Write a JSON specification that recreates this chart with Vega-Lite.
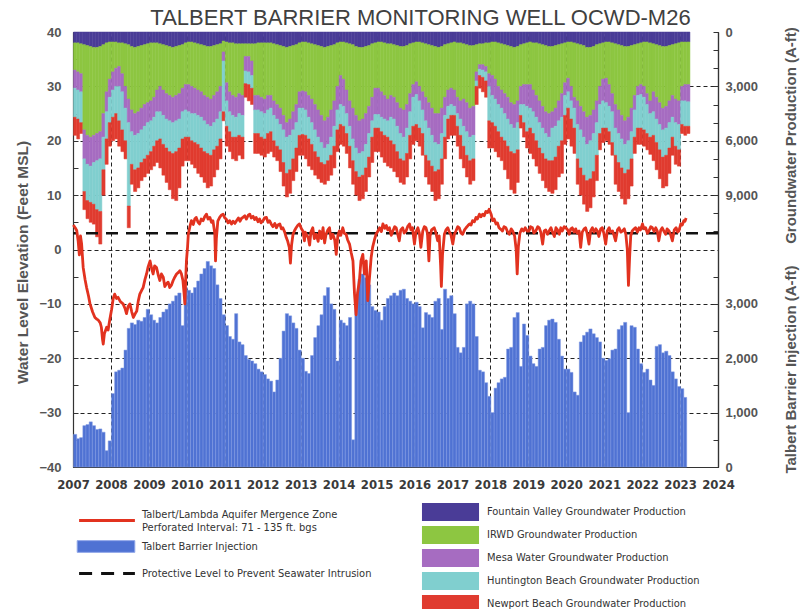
{
"$schema": "https://vega.github.io/schema/vega-lite/v6.json",
"width": 645, "height": 435,
"autosize": {"type": "none"},
"padding": {"left": 73, "top": 32, "right": 85, "bottom": 142},
"background": "white",
"config": {"view": {"stroke": null}, "font": "Liberation Sans"},
"title": {"text": "TALBERT  BARRIER  MONITORING  WELL  OCWD-M26", "fontSize": 22, "fontWeight": "normal", "color": "#404040", "font": "Liberation Sans", "anchor": "middle", "dx": 25, "dy": 10, "offset": 6},
"datasets": {
"prod": [
{"d":"2007-01","aFV":600,"bIRWD":1500,"cMesa":1000,"dHB":1600,"eNB":1000},
{"d":"2007-02","aFV":600,"bIRWD":1600,"cMesa":1000,"dHB":1600,"eNB":1100},
{"d":"2007-03","aFV":650,"bIRWD":1650,"cMesa":1000,"dHB":1700,"eNB":600},
{"d":"2007-04","aFV":700,"bIRWD":4700,"cMesa":1600,"dHB":1800,"eNB":1000},
{"d":"2007-05","aFV":750,"bIRWD":4950,"cMesa":1600,"dHB":2000,"eNB":1000},
{"d":"2007-06","aFV":800,"bIRWD":5000,"cMesa":1600,"dHB":2000,"eNB":1100},
{"d":"2007-07","aFV":850,"bIRWD":4850,"cMesa":1500,"dHB":2300,"eNB":1100},
{"d":"2007-08","aFV":850,"bIRWD":4750,"cMesa":1500,"dHB":2700,"eNB":1500},
{"d":"2007-09","aFV":800,"bIRWD":4700,"cMesa":1500,"dHB":2900,"eNB":1800},
{"d":"2007-10","aFV":700,"bIRWD":3800,"cMesa":1300,"dHB":1800,"eNB":1400},
{"d":"2007-11","aFV":600,"bIRWD":2700,"cMesa":1100,"dHB":1500,"eNB":1400},
{"d":"2007-12","aFV":550,"bIRWD":2050,"cMesa":1000,"dHB":1400,"eNB":1300},
{"d":"2008-01","aFV":550,"bIRWD":1650,"cMesa":1000,"dHB":1500,"eNB":1300},
{"d":"2008-02","aFV":550,"bIRWD":1450,"cMesa":1000,"dHB":1500,"eNB":1400},
{"d":"2008-03","aFV":600,"bIRWD":1300,"cMesa":1100,"dHB":1900,"eNB":1400},
{"d":"2008-04","aFV":600,"bIRWD":1700,"cMesa":1000,"dHB":2100,"eNB":1200},
{"d":"2008-05","aFV":650,"bIRWD":2350,"cMesa":1200,"dHB":1800,"eNB":1000},
{"d":"2008-06","aFV":700,"bIRWD":3000,"cMesa":1300,"dHB":4600,"eNB":1200},
{"d":"2008-07","aFV":800,"bIRWD":3500,"cMesa":1200,"dHB":1800,"eNB":1100},
{"d":"2008-08","aFV":850,"bIRWD":3650,"cMesa":1200,"dHB":1900,"eNB":1200},
{"d":"2008-09","aFV":800,"bIRWD":3600,"cMesa":1200,"dHB":1900,"eNB":1100},
{"d":"2008-10","aFV":750,"bIRWD":3450,"cMesa":1200,"dHB":1800,"eNB":1000},
{"d":"2008-11","aFV":700,"bIRWD":3300,"cMesa":1200,"dHB":1800,"eNB":1000},
{"d":"2008-12","aFV":650,"bIRWD":3250,"cMesa":1100,"dHB":1800,"eNB":1000},
{"d":"2009-01","aFV":600,"bIRWD":3200,"cMesa":1100,"dHB":1700,"eNB":1000},
{"d":"2009-02","aFV":600,"bIRWD":3000,"cMesa":1100,"dHB":1600,"eNB":1100},
{"d":"2009-03","aFV":600,"bIRWD":2600,"cMesa":1200,"dHB":1600,"eNB":1200},
{"d":"2009-04","aFV":650,"bIRWD":2350,"cMesa":1400,"dHB":1500,"eNB":1600},
{"d":"2009-05","aFV":700,"bIRWD":2500,"cMesa":1400,"dHB":1600,"eNB":1700},
{"d":"2009-06","aFV":750,"bIRWD":2650,"cMesa":1400,"dHB":1600,"eNB":1900},
{"d":"2009-07","aFV":800,"bIRWD":2700,"cMesa":1400,"dHB":1700,"eNB":2100},
{"d":"2009-08","aFV":850,"bIRWD":2750,"cMesa":1400,"dHB":1700,"eNB":2500},
{"d":"2009-09","aFV":800,"bIRWD":2700,"cMesa":1400,"dHB":1700,"eNB":2700},
{"d":"2009-10","aFV":750,"bIRWD":2650,"cMesa":1400,"dHB":1600,"eNB":2200},
{"d":"2009-11","aFV":700,"bIRWD":2400,"cMesa":1300,"dHB":1500,"eNB":1500},
{"d":"2009-12","aFV":600,"bIRWD":2300,"cMesa":1400,"dHB":1500,"eNB":1300},
{"d":"2010-01","aFV":550,"bIRWD":2350,"cMesa":1500,"dHB":1400,"eNB":1300},
{"d":"2010-02","aFV":550,"bIRWD":2450,"cMesa":1500,"dHB":1500,"eNB":1300},
{"d":"2010-03","aFV":600,"bIRWD":2500,"cMesa":1400,"dHB":1600,"eNB":1400},
{"d":"2010-04","aFV":650,"bIRWD":2550,"cMesa":1400,"dHB":1600,"eNB":1600},
{"d":"2010-05","aFV":700,"bIRWD":2600,"cMesa":1400,"dHB":1700,"eNB":1600},
{"d":"2010-06","aFV":750,"bIRWD":2750,"cMesa":1400,"dHB":1700,"eNB":1700},
{"d":"2010-07","aFV":800,"bIRWD":2800,"cMesa":1500,"dHB":1600,"eNB":1900},
{"d":"2010-08","aFV":800,"bIRWD":2900,"cMesa":1500,"dHB":1600,"eNB":1700},
{"d":"2010-09","aFV":750,"bIRWD":2750,"cMesa":1500,"dHB":1500,"eNB":1500},
{"d":"2010-10","aFV":700,"bIRWD":2600,"cMesa":1500,"dHB":1500,"eNB":1300},
{"d":"2010-11","aFV":650,"bIRWD":2350,"cMesa":1400,"dHB":1500,"eNB":1100},
{"d":"2010-12","aFV":500,"bIRWD":600,"cMesa":500,"dHB":2800,"eNB":500},
{"d":"2011-01","aFV":550,"bIRWD":2250,"cMesa":1000,"dHB":1400,"eNB":1100},
{"d":"2011-02","aFV":600,"bIRWD":2700,"cMesa":1100,"dHB":1100,"eNB":1100},
{"d":"2011-03","aFV":600,"bIRWD":2900,"cMesa":1100,"dHB":1200,"eNB":1200},
{"d":"2011-04","aFV":650,"bIRWD":2950,"cMesa":1100,"dHB":1100,"eNB":1300},
{"d":"2011-05","aFV":650,"bIRWD":2750,"cMesa":1100,"dHB":1200,"eNB":1100},
{"d":"2011-06","aFV":650,"bIRWD":2850,"cMesa":1100,"dHB":1200,"eNB":1200},
{"d":"2011-07","aFV":650,"bIRWD":700,"cMesa":800,"dHB":700,"eNB":750},
{"d":"2011-08","aFV":650,"bIRWD":700,"cMesa":850,"dHB":700,"eNB":900},
{"d":"2011-09","aFV":650,"bIRWD":950,"cMesa":800,"dHB":700,"eNB":900},
{"d":"2011-10","aFV":650,"bIRWD":2850,"cMesa":800,"dHB":1300,"eNB":1100},
{"d":"2011-11","aFV":600,"bIRWD":2900,"cMesa":800,"dHB":1300,"eNB":1100},
{"d":"2011-12","aFV":600,"bIRWD":3000,"cMesa":800,"dHB":1400,"eNB":1000},
{"d":"2012-01","aFV":600,"bIRWD":3100,"cMesa":800,"dHB":1400,"eNB":1000},
{"d":"2012-02","aFV":600,"bIRWD":2900,"cMesa":800,"dHB":1300,"eNB":1100},
{"d":"2012-03","aFV":600,"bIRWD":2900,"cMesa":700,"dHB":1300,"eNB":1100},
{"d":"2012-04","aFV":650,"bIRWD":3150,"cMesa":800,"dHB":1400,"eNB":900},
{"d":"2012-05","aFV":700,"bIRWD":3300,"cMesa":800,"dHB":1500,"eNB":800},
{"d":"2012-06","aFV":750,"bIRWD":3450,"cMesa":900,"dHB":1400,"eNB":1200},
{"d":"2012-07","aFV":800,"bIRWD":3800,"cMesa":800,"dHB":1800,"eNB":1300},
{"d":"2012-08","aFV":850,"bIRWD":4150,"cMesa":800,"dHB":2000,"eNB":1300},
{"d":"2012-09","aFV":800,"bIRWD":4000,"cMesa":900,"dHB":1900,"eNB":1300},
{"d":"2012-10","aFV":750,"bIRWD":3650,"cMesa":1000,"dHB":1600,"eNB":1200},
{"d":"2012-11","aFV":700,"bIRWD":3300,"cMesa":1000,"dHB":1400,"eNB":1300},
{"d":"2012-12","aFV":600,"bIRWD":2700,"cMesa":900,"dHB":1500,"eNB":1100},
{"d":"2013-01","aFV":550,"bIRWD":2700,"cMesa":950,"dHB":1450,"eNB":1150},
{"d":"2013-02","aFV":550,"bIRWD":2750,"cMesa":1000,"dHB":1400,"eNB":1300},
{"d":"2013-03","aFV":600,"bIRWD":2900,"cMesa":1200,"dHB":1200,"eNB":1500},
{"d":"2013-04","aFV":650,"bIRWD":3050,"cMesa":1300,"dHB":1200,"eNB":1400},
{"d":"2013-05","aFV":700,"bIRWD":3300,"cMesa":1400,"dHB":1200,"eNB":1300},
{"d":"2013-06","aFV":750,"bIRWD":3550,"cMesa":1500,"dHB":1100,"eNB":1200},
{"d":"2013-07","aFV":800,"bIRWD":3800,"cMesa":1500,"dHB":1100,"eNB":1100},
{"d":"2013-08","aFV":850,"bIRWD":4050,"cMesa":1500,"dHB":900,"eNB":1100},
{"d":"2013-09","aFV":800,"bIRWD":3900,"cMesa":1500,"dHB":900,"eNB":1100},
{"d":"2013-10","aFV":750,"bIRWD":3550,"cMesa":1500,"dHB":1000,"eNB":1100},
{"d":"2013-11","aFV":700,"bIRWD":3100,"cMesa":1400,"dHB":1100,"eNB":1200},
{"d":"2013-12","aFV":600,"bIRWD":2400,"cMesa":1300,"dHB":1100,"eNB":1200},
{"d":"2014-01","aFV":550,"bIRWD":1850,"cMesa":1600,"dHB":1100,"eNB":1100},
{"d":"2014-02","aFV":550,"bIRWD":2050,"cMesa":1500,"dHB":1100,"eNB":1100},
{"d":"2014-03","aFV":600,"bIRWD":2600,"cMesa":1300,"dHB":1100,"eNB":1100},
{"d":"2014-04","aFV":650,"bIRWD":3150,"cMesa":1400,"dHB":1100,"eNB":1200},
{"d":"2014-05","aFV":700,"bIRWD":3500,"cMesa":1700,"dHB":1200,"eNB":1300},
{"d":"2014-06","aFV":800,"bIRWD":3800,"cMesa":1800,"dHB":1300,"eNB":1300},
{"d":"2014-07","aFV":850,"bIRWD":4050,"cMesa":1800,"dHB":1300,"eNB":1300},
{"d":"2014-08","aFV":850,"bIRWD":3950,"cMesa":1800,"dHB":1300,"eNB":1300},
{"d":"2014-09","aFV":800,"bIRWD":3700,"cMesa":1700,"dHB":1300,"eNB":1300},
{"d":"2014-10","aFV":750,"bIRWD":3350,"cMesa":1500,"dHB":1300,"eNB":1100},
{"d":"2014-11","aFV":650,"bIRWD":2950,"cMesa":1300,"dHB":900,"eNB":1400},
{"d":"2014-12","aFV":600,"bIRWD":2500,"cMesa":1450,"dHB":750,"eNB":1300},
{"d":"2015-01","aFV":550,"bIRWD":2550,"cMesa":1450,"dHB":750,"eNB":1300},
{"d":"2015-02","aFV":550,"bIRWD":2750,"cMesa":1400,"dHB":800,"eNB":1400},
{"d":"2015-03","aFV":600,"bIRWD":2900,"cMesa":1300,"dHB":900,"eNB":1500},
{"d":"2015-04","aFV":650,"bIRWD":3050,"cMesa":1200,"dHB":900,"eNB":1600},
{"d":"2015-05","aFV":650,"bIRWD":2850,"cMesa":1200,"dHB":1300,"eNB":1500},
{"d":"2015-06","aFV":700,"bIRWD":2900,"cMesa":1200,"dHB":1400,"eNB":1500},
{"d":"2015-07","aFV":750,"bIRWD":3150,"cMesa":1300,"dHB":1400,"eNB":1400},
{"d":"2015-08","aFV":800,"bIRWD":3400,"cMesa":1400,"dHB":1400,"eNB":1300},
{"d":"2015-09","aFV":800,"bIRWD":3500,"cMesa":1500,"dHB":1300,"eNB":1300},
{"d":"2015-10","aFV":750,"bIRWD":3250,"cMesa":1300,"dHB":1400,"eNB":1300},
{"d":"2015-11","aFV":650,"bIRWD":2750,"cMesa":1000,"dHB":1300,"eNB":1300},
{"d":"2015-12","aFV":600,"bIRWD":2300,"cMesa":700,"dHB":1600,"eNB":1000},
{"d":"2016-01","aFV":550,"bIRWD":2200,"cMesa":700,"dHB":1650,"eNB":900},
{"d":"2016-02","aFV":550,"bIRWD":2450,"cMesa":800,"dHB":1500,"eNB":1000},
{"d":"2016-03","aFV":600,"bIRWD":2700,"cMesa":1000,"dHB":1300,"eNB":1200},
{"d":"2016-04","aFV":650,"bIRWD":2950,"cMesa":1300,"dHB":1900,"eNB":1200},
{"d":"2016-05","aFV":700,"bIRWD":3200,"cMesa":1400,"dHB":1800,"eNB":1300},
{"d":"2016-06","aFV":750,"bIRWD":3450,"cMesa":1500,"dHB":1700,"eNB":1400},
{"d":"2016-07","aFV":800,"bIRWD":3700,"cMesa":1600,"dHB":1600,"eNB":1600},
{"d":"2016-08","aFV":850,"bIRWD":3650,"cMesa":1700,"dHB":1400,"eNB":1600},
{"d":"2016-09","aFV":800,"bIRWD":3400,"cMesa":1400,"dHB":1400,"eNB":1400},
{"d":"2016-10","aFV":700,"bIRWD":2900,"cMesa":1000,"dHB":1200,"eNB":1200},
{"d":"2016-11","aFV":650,"bIRWD":2550,"cMesa":900,"dHB":700,"eNB":1100},
{"d":"2016-12","aFV":600,"bIRWD":2500,"cMesa":900,"dHB":600,"eNB":1100},
{"d":"2017-01","aFV":550,"bIRWD":2650,"cMesa":900,"dHB":500,"eNB":1100},
{"d":"2017-02","aFV":600,"bIRWD":3000,"cMesa":900,"dHB":700,"eNB":1100},
{"d":"2017-03","aFV":600,"bIRWD":3200,"cMesa":1000,"dHB":900,"eNB":1300},
{"d":"2017-04","aFV":650,"bIRWD":3050,"cMesa":1500,"dHB":1100,"eNB":1200},
{"d":"2017-05","aFV":700,"bIRWD":3200,"cMesa":1600,"dHB":1300,"eNB":1200},
{"d":"2017-06","aFV":750,"bIRWD":3450,"cMesa":1600,"dHB":1300,"eNB":1300},
{"d":"2017-07","aFV":750,"bIRWD":3350,"cMesa":1600,"dHB":1300,"eNB":1200},
{"d":"2017-08","aFV":700,"bIRWD":1500,"cMesa":500,"dHB":300,"eNB":1000},
{"d":"2017-09","aFV":650,"bIRWD":1150,"cMesa":250,"dHB":350,"eNB":700},
{"d":"2017-10","aFV":650,"bIRWD":1150,"cMesa":300,"dHB":400,"eNB":800},
{"d":"2017-11","aFV":600,"bIRWD":1300,"cMesa":300,"dHB":500,"eNB":900},
{"d":"2017-12","aFV":600,"bIRWD":1700,"cMesa":700,"dHB":1900,"eNB":1500},
{"d":"2018-01","aFV":550,"bIRWD":1850,"cMesa":1100,"dHB":1500,"eNB":1400},
{"d":"2018-02","aFV":550,"bIRWD":2050,"cMesa":1100,"dHB":1500,"eNB":1400},
{"d":"2018-03","aFV":600,"bIRWD":2400,"cMesa":1000,"dHB":1500,"eNB":1400},
{"d":"2018-04","aFV":650,"bIRWD":2550,"cMesa":1000,"dHB":1600,"eNB":1300},
{"d":"2018-05","aFV":700,"bIRWD":2700,"cMesa":1100,"dHB":1500,"eNB":1600},
{"d":"2018-06","aFV":750,"bIRWD":2850,"cMesa":1200,"dHB":1500,"eNB":1800},
{"d":"2018-07","aFV":800,"bIRWD":3100,"cMesa":1200,"dHB":1500,"eNB":2100},
{"d":"2018-08","aFV":850,"bIRWD":3150,"cMesa":1300,"dHB":1400,"eNB":2200},
{"d":"2018-09","aFV":800,"bIRWD":3000,"cMesa":1200,"dHB":1500,"eNB":1800},
{"d":"2018-10","aFV":700,"bIRWD":2300,"cMesa":1000,"dHB":600,"eNB":700},
{"d":"2018-11","aFV":650,"bIRWD":2250,"cMesa":1100,"dHB":1000,"eNB":800},
{"d":"2018-12","aFV":600,"bIRWD":2300,"cMesa":1200,"dHB":1400,"eNB":900},
{"d":"2019-01","aFV":550,"bIRWD":2350,"cMesa":1300,"dHB":1100,"eNB":1400},
{"d":"2019-02","aFV":600,"bIRWD":2600,"cMesa":1200,"dHB":1200,"eNB":1400},
{"d":"2019-03","aFV":600,"bIRWD":2900,"cMesa":1200,"dHB":1300,"eNB":1400},
{"d":"2019-04","aFV":650,"bIRWD":3150,"cMesa":1200,"dHB":1400,"eNB":1400},
{"d":"2019-05","aFV":700,"bIRWD":3400,"cMesa":1200,"dHB":1400,"eNB":1500},
{"d":"2019-06","aFV":750,"bIRWD":3650,"cMesa":1200,"dHB":1400,"eNB":1600},
{"d":"2019-07","aFV":800,"bIRWD":3700,"cMesa":1300,"dHB":1300,"eNB":1700},
{"d":"2019-08","aFV":800,"bIRWD":3600,"cMesa":900,"dHB":1800,"eNB":1800},
{"d":"2019-09","aFV":750,"bIRWD":3450,"cMesa":1000,"dHB":1700,"eNB":1800},
{"d":"2019-10","aFV":700,"bIRWD":3100,"cMesa":1100,"dHB":1400,"eNB":1700},
{"d":"2019-11","aFV":650,"bIRWD":2750,"cMesa":1300,"dHB":1300,"eNB":1800},
{"d":"2019-12","aFV":600,"bIRWD":2200,"cMesa":700,"dHB":1100,"eNB":1600},
{"d":"2020-01","aFV":550,"bIRWD":2000,"cMesa":750,"dHB":900,"eNB":1700},
{"d":"2020-02","aFV":550,"bIRWD":2450,"cMesa":800,"dHB":1000,"eNB":1500},
{"d":"2020-03","aFV":600,"bIRWD":3000,"cMesa":600,"dHB":1100,"eNB":1400},
{"d":"2020-04","aFV":650,"bIRWD":3150,"cMesa":1300,"dHB":1900,"eNB":1400},
{"d":"2020-05","aFV":700,"bIRWD":3400,"cMesa":1300,"dHB":2100,"eNB":1500},
{"d":"2020-06","aFV":750,"bIRWD":3650,"cMesa":1400,"dHB":2100,"eNB":1600},
{"d":"2020-07","aFV":850,"bIRWD":3850,"cMesa":1500,"dHB":2000,"eNB":1700},
{"d":"2020-08","aFV":850,"bIRWD":3750,"cMesa":1400,"dHB":2100,"eNB":1600},
{"d":"2020-09","aFV":800,"bIRWD":3500,"cMesa":1300,"dHB":2100,"eNB":1400},
{"d":"2020-10","aFV":700,"bIRWD":3100,"cMesa":1200,"dHB":1800,"eNB":1400},
{"d":"2020-11","aFV":650,"bIRWD":2350,"cMesa":1000,"dHB":1600,"eNB":900},
{"d":"2020-12","aFV":600,"bIRWD":2000,"cMesa":1200,"dHB":1500,"eNB":800},
{"d":"2021-01","aFV":550,"bIRWD":2000,"cMesa":1350,"dHB":1400,"eNB":700},
{"d":"2021-02","aFV":550,"bIRWD":2350,"cMesa":1200,"dHB":1400,"eNB":700},
{"d":"2021-03","aFV":600,"bIRWD":2800,"cMesa":1000,"dHB":1700,"eNB":700},
{"d":"2021-04","aFV":650,"bIRWD":3350,"cMesa":1300,"dHB":1500,"eNB":1600},
{"d":"2021-05","aFV":700,"bIRWD":3600,"cMesa":1300,"dHB":1600,"eNB":1600},
{"d":"2021-06","aFV":750,"bIRWD":3850,"cMesa":1300,"dHB":1600,"eNB":1700},
{"d":"2021-07","aFV":800,"bIRWD":4100,"cMesa":1300,"dHB":1600,"eNB":1700},
{"d":"2021-08","aFV":800,"bIRWD":3900,"cMesa":1300,"dHB":1600,"eNB":1600},
{"d":"2021-09","aFV":750,"bIRWD":3450,"cMesa":1300,"dHB":1500,"eNB":1500},
{"d":"2021-10","aFV":700,"bIRWD":2800,"cMesa":800,"dHB":1500,"eNB":900},
{"d":"2021-11","aFV":650,"bIRWD":2350,"cMesa":500,"dHB":1800,"eNB":900},
{"d":"2021-12","aFV":600,"bIRWD":2300,"cMesa":550,"dHB":1850,"eNB":900},
{"d":"2022-01","aFV":550,"bIRWD":2450,"cMesa":600,"dHB":1800,"eNB":900},
{"d":"2022-02","aFV":550,"bIRWD":2850,"cMesa":600,"dHB":1600,"eNB":900},
{"d":"2022-03","aFV":600,"bIRWD":3200,"cMesa":700,"dHB":1300,"eNB":950},
{"d":"2022-04","aFV":650,"bIRWD":2650,"cMesa":1100,"dHB":1300,"eNB":1400},
{"d":"2022-05","aFV":700,"bIRWD":2900,"cMesa":1200,"dHB":1300,"eNB":1500},
{"d":"2022-06","aFV":750,"bIRWD":3150,"cMesa":1200,"dHB":1400,"eNB":1600},
{"d":"2022-07","aFV":800,"bIRWD":3400,"cMesa":1200,"dHB":1500,"eNB":1700},
{"d":"2022-08","aFV":800,"bIRWD":3300,"cMesa":1200,"dHB":1500,"eNB":1700},
{"d":"2022-09","aFV":750,"bIRWD":3050,"cMesa":1200,"dHB":1400,"eNB":1400},
{"d":"2022-10","aFV":700,"bIRWD":2800,"cMesa":1200,"dHB":1100,"eNB":1000},
{"d":"2022-11","aFV":650,"bIRWD":3050,"cMesa":1300,"dHB":1300,"eNB":1000},
{"d":"2022-12","aFV":600,"bIRWD":3200,"cMesa":1300,"dHB":1400,"eNB":900},
{"d":"2023-01","aFV":550,"bIRWD":2450,"cMesa":800,"dHB":1300,"eNB":500},
{"d":"2023-02","aFV":550,"bIRWD":2350,"cMesa":900,"dHB":1400,"eNB":500},
{"d":"2023-03","aFV":550,"bIRWD":2350,"cMesa":950,"dHB":1350,"eNB":400}
],
"inj": [
{"d":"2007-01","inj":600},{"d":"2007-02","inj":520},{"d":"2007-03","inj":540},{"d":"2007-04","inj":760},{"d":"2007-05","inj":780},{"d":"2007-06","inj":830},{"d":"2007-07","inj":760},{"d":"2007-08","inj":690},{"d":"2007-09","inj":700},{"d":"2007-10","inj":640},{"d":"2007-11","inj":300},{"d":"2007-12","inj":480},
{"d":"2008-01","inj":1350},{"d":"2008-02","inj":1750},{"d":"2008-03","inj":1780},{"d":"2008-04","inj":1820},{"d":"2008-05","inj":2150},{"d":"2008-06","inj":2550},{"d":"2008-07","inj":2650},{"d":"2008-08","inj":2620},{"d":"2008-09","inj":2700},{"d":"2008-10","inj":2680},{"d":"2008-11","inj":2750},{"d":"2008-12","inj":2900},
{"d":"2009-01","inj":2800},{"d":"2009-02","inj":2700},{"d":"2009-03","inj":2650},{"d":"2009-04","inj":2750},{"d":"2009-05","inj":2850},{"d":"2009-06","inj":2900},{"d":"2009-07","inj":3000},{"d":"2009-08","inj":3050},{"d":"2009-09","inj":3150},{"d":"2009-10","inj":3200},{"d":"2009-11","inj":2600},{"d":"2009-12","inj":3300},
{"d":"2010-01","inj":3250},{"d":"2010-02","inj":3200},{"d":"2010-03","inj":3300},{"d":"2010-04","inj":3420},{"d":"2010-05","inj":3550},{"d":"2010-06","inj":3650},{"d":"2010-07","inj":3780},{"d":"2010-08","inj":3700},{"d":"2010-09","inj":3650},{"d":"2010-10","inj":3350},{"d":"2010-11","inj":3100},{"d":"2010-12","inj":2800},
{"d":"2011-01","inj":2600},{"d":"2011-02","inj":2400},{"d":"2011-03","inj":2350},{"d":"2011-04","inj":2820},{"d":"2011-05","inj":2300},{"d":"2011-06","inj":2250},{"d":"2011-07","inj":2050},{"d":"2011-08","inj":1980},{"d":"2011-09","inj":1950},{"d":"2011-10","inj":1900},{"d":"2011-11","inj":1800},{"d":"2011-12","inj":1750},
{"d":"2012-01","inj":1700},{"d":"2012-02","inj":1620},{"d":"2012-03","inj":1580},{"d":"2012-04","inj":1380},{"d":"2012-05","inj":1600},{"d":"2012-06","inj":2000},{"d":"2012-07","inj":2500},{"d":"2012-08","inj":2820},{"d":"2012-09","inj":2780},{"d":"2012-10","inj":2650},{"d":"2012-11","inj":2550},{"d":"2012-12","inj":2150},
{"d":"2013-01","inj":2000},{"d":"2013-02","inj":1760},{"d":"2013-03","inj":1720},{"d":"2013-04","inj":2050},{"d":"2013-05","inj":2380},{"d":"2013-06","inj":2600},{"d":"2013-07","inj":2800},{"d":"2013-08","inj":3150},{"d":"2013-09","inj":3300},{"d":"2013-10","inj":3000},{"d":"2013-11","inj":2900},{"d":"2013-12","inj":1950},
{"d":"2014-01","inj":2700},{"d":"2014-02","inj":2650},{"d":"2014-03","inj":2600},{"d":"2014-04","inj":2750},{"d":"2014-05","inj":500},{"d":"2014-06","inj":3000},{"d":"2014-07","inj":3450},{"d":"2014-08","inj":3550},{"d":"2014-09","inj":3480},{"d":"2014-10","inj":3350},{"d":"2014-11","inj":2950},{"d":"2014-12","inj":2880},
{"d":"2015-01","inj":2850},{"d":"2015-02","inj":2700},{"d":"2015-03","inj":2950},{"d":"2015-04","inj":3100},{"d":"2015-05","inj":3150},{"d":"2015-06","inj":3200},{"d":"2015-07","inj":3150},{"d":"2015-08","inj":3250},{"d":"2015-09","inj":3270},{"d":"2015-10","inj":3100},{"d":"2015-11","inj":3050},{"d":"2015-12","inj":3000},
{"d":"2016-01","inj":3030},{"d":"2016-02","inj":2950},{"d":"2016-03","inj":2560},{"d":"2016-04","inj":2840},{"d":"2016-05","inj":2800},{"d":"2016-06","inj":2750},{"d":"2016-07","inj":3050},{"d":"2016-08","inj":3100},{"d":"2016-09","inj":2530},{"d":"2016-10","inj":3270},{"d":"2016-11","inj":3100},{"d":"2016-12","inj":3150},
{"d":"2017-01","inj":2820},{"d":"2017-02","inj":2200},{"d":"2017-03","inj":2100},{"d":"2017-04","inj":2200},{"d":"2017-05","inj":3000},{"d":"2017-06","inj":3050},{"d":"2017-07","inj":3000},{"d":"2017-08","inj":2400},{"d":"2017-09","inj":1780},{"d":"2017-10","inj":1750},{"d":"2017-11","inj":1550},{"d":"2017-12","inj":1300},
{"d":"2018-01","inj":1000},{"d":"2018-02","inj":1450},{"d":"2018-03","inj":1550},{"d":"2018-04","inj":1620},{"d":"2018-05","inj":1650},{"d":"2018-06","inj":2170},{"d":"2018-07","inj":2200},{"d":"2018-08","inj":2750},{"d":"2018-09","inj":2840},{"d":"2018-10","inj":1850},{"d":"2018-11","inj":2630},{"d":"2018-12","inj":2420},
{"d":"2019-01","inj":2040},{"d":"2019-02","inj":1900},{"d":"2019-03","inj":1850},{"d":"2019-04","inj":2170},{"d":"2019-05","inj":2200},{"d":"2019-06","inj":2600},{"d":"2019-07","inj":2700},{"d":"2019-08","inj":2720},{"d":"2019-09","inj":2660},{"d":"2019-10","inj":2350},{"d":"2019-11","inj":2040},{"d":"2019-12","inj":1800},
{"d":"2020-01","inj":1800},{"d":"2020-02","inj":1740},{"d":"2020-03","inj":1380},{"d":"2020-04","inj":1320},{"d":"2020-05","inj":2300},{"d":"2020-06","inj":2420},{"d":"2020-07","inj":2480},{"d":"2020-08","inj":2540},{"d":"2020-09","inj":2450},{"d":"2020-10","inj":2380},{"d":"2020-11","inj":2300},{"d":"2020-12","inj":2000},
{"d":"2021-01","inj":1960},{"d":"2021-02","inj":1990},{"d":"2021-03","inj":2150},{"d":"2021-04","inj":2170},{"d":"2021-05","inj":2530},{"d":"2021-06","inj":2600},{"d":"2021-07","inj":2660},{"d":"2021-08","inj":1000},{"d":"2021-09","inj":2600},{"d":"2021-10","inj":2570},{"d":"2021-11","inj":2170},{"d":"2021-12","inj":1900},
{"d":"2022-01","inj":1740},{"d":"2022-02","inj":1800},{"d":"2022-03","inj":1600},{"d":"2022-04","inj":1500},{"d":"2022-05","inj":2220},{"d":"2022-06","inj":2250},{"d":"2022-07","inj":2100},{"d":"2022-08","inj":2130},{"d":"2022-09","inj":2050},{"d":"2022-10","inj":1750},{"d":"2022-11","inj":1620},{"d":"2022-12","inj":1480},
{"d":"2023-01","inj":1440},{"d":"2023-02","inj":1280}
],
"wl": [
{"t":"2007-01-04","w":4.5},{"t":"2007-01-22","w":4.0},{"t":"2007-02-06","w":3.5},{"t":"2007-02-20","w":1.5},{"t":"2007-03-03","w":-1.0},{"t":"2007-03-14","w":2.5},{"t":"2007-03-25","w":1.0},{"t":"2007-04-09","w":-3.3},{"t":"2007-04-27","w":-5.5},{"t":"2007-05-12","w":-7},{"t":"2007-05-30","w":-8.5},{"t":"2007-06-14","w":-10},{"t":"2007-07-09","w":-11.5},{"t":"2007-07-31","w":-12.5},{"t":"2007-08-18","w":-12.8},{"t":"2007-09-02","w":-13},{"t":"2007-09-20","w":-13.5},{"t":"2007-10-01","w":-14.3},{"t":"2007-10-12","w":-16.5},{"t":"2007-10-19","w":-17.4},{"t":"2007-10-30","w":-15.5},{"t":"2007-11-21","w":-14.3},{"t":"2007-12-05","w":-14.8},{"t":"2007-12-20","w":-13},
{"t":"2008-01-08","w":-11},{"t":"2008-01-23","w":-9},{"t":"2008-02-06","w":-8.2},{"t":"2008-02-24","w":-9.0},{"t":"2008-03-10","w":-8.8},{"t":"2008-04-01","w":-9.6},{"t":"2008-04-27","w":-10},{"t":"2008-05-15","w":-10.8},{"t":"2008-05-30","w":-11.8},{"t":"2008-06-14","w":-10.5},{"t":"2008-07-02","w":-10},{"t":"2008-07-20","w":-11.5},{"t":"2008-08-04","w":-12.5},{"t":"2008-08-22","w":-11.8},{"t":"2008-09-06","w":-11.3},{"t":"2008-09-20","w":-9.5},{"t":"2008-10-05","w":-8.2},{"t":"2008-10-23","w":-7.5},{"t":"2008-11-06","w":-7},{"t":"2008-11-24","w":-5.5},{"t":"2008-12-09","w":-4.5},{"t":"2008-12-24","w":-3.2},
{"t":"2009-01-12","w":-2.1},{"t":"2009-01-27","w":-3.5},{"t":"2009-02-10","w":-4.5},{"t":"2009-02-25","w":-3.0},{"t":"2009-03-15","w":-3.3},{"t":"2009-04-02","w":-4.8},{"t":"2009-04-16","w":-5.7},{"t":"2009-05-01","w":-4.5},{"t":"2009-05-19","w":-5.1},{"t":"2009-06-03","w":-6.8},{"t":"2009-06-18","w":-6.3},{"t":"2009-07-05","w":-6.0},{"t":"2009-07-20","w":-7},{"t":"2009-08-07","w":-6.5},{"t":"2009-08-22","w":-5.7},{"t":"2009-09-09","w":-5.0},{"t":"2009-09-24","w":-4.5},{"t":"2009-10-12","w":-4.2},{"t":"2009-10-26","w":-3.9},{"t":"2009-11-10","w":-4.5},{"t":"2009-11-24","w":-5.7},{"t":"2009-12-05","w":-8},{"t":"2009-12-13","w":-10},{"t":"2009-12-20","w":-6},{"t":"2009-12-28","w":-2.1},
{"t":"2010-01-08","w":0.5},{"t":"2010-01-15","w":2.8},{"t":"2010-01-30","w":4.2},{"t":"2010-02-14","w":5.3},{"t":"2010-03-04","w":4.6},{"t":"2010-03-18","w":5.6},{"t":"2010-04-01","w":5.9},{"t":"2010-04-19","w":5.0},{"t":"2010-05-04","w":4.7},{"t":"2010-05-19","w":5.6},{"t":"2010-06-06","w":5.3},{"t":"2010-06-21","w":6.0},{"t":"2010-07-09","w":6.5},{"t":"2010-07-24","w":5.6},{"t":"2010-08-11","w":5.9},{"t":"2010-08-26","w":5.0},{"t":"2010-09-09","w":5.3},{"t":"2010-09-27","w":3.0},{"t":"2010-10-04","w":-2.1},{"t":"2010-10-12","w":2.0},{"t":"2010-10-26","w":5.2},{"t":"2010-11-13","w":5.9},{"t":"2010-11-28","w":6.3},{"t":"2010-12-16","w":6.5},
{"t":"2011-01-01","w":5.8},{"t":"2011-01-15","w":5.6},{"t":"2011-02-02","w":4.9},{"t":"2011-02-17","w":5.3},{"t":"2011-03-07","w":4.7},{"t":"2011-03-22","w":5.2},{"t":"2011-04-09","w":4.8},{"t":"2011-04-24","w":5.3},{"t":"2011-05-12","w":5.8},{"t":"2011-05-27","w":5.2},{"t":"2011-06-10","w":5.7},{"t":"2011-06-25","w":5.9},{"t":"2011-07-13","w":6.2},{"t":"2011-07-28","w":5.6},{"t":"2011-08-15","w":6.3},{"t":"2011-08-30","w":6.5},{"t":"2011-09-13","w":5.8},{"t":"2011-10-01","w":6.1},{"t":"2011-10-16","w":5.5},{"t":"2011-10-30","w":5.9},{"t":"2011-11-17","w":5.1},{"t":"2011-12-02","w":5.6},{"t":"2011-12-16","w":4.9},
{"t":"2012-01-04","w":5.3},{"t":"2012-01-19","w":5.8},{"t":"2012-02-06","w":5.9},{"t":"2012-02-21","w":5.0},{"t":"2012-03-07","w":5.3},{"t":"2012-03-25","w":4.6},{"t":"2012-04-09","w":4.2},{"t":"2012-04-27","w":4.8},{"t":"2012-05-12","w":4.0},{"t":"2012-05-27","w":4.5},{"t":"2012-06-14","w":4.7},{"t":"2012-06-29","w":3.8},{"t":"2012-07-13","w":4.0},{"t":"2012-07-31","w":3.2},{"t":"2012-08-15","w":2.2},{"t":"2012-08-29","w":1.5},{"t":"2012-09-13","w":0.4},{"t":"2012-09-24","w":-2.5},{"t":"2012-10-05","w":0.8},{"t":"2012-10-19","w":2.8},{"t":"2012-11-03","w":3.5},{"t":"2012-11-18","w":4.0},{"t":"2012-12-06","w":4.5},{"t":"2012-12-20","w":4.7},
{"t":"2013-01-08","w":3.8},{"t":"2013-01-22","w":3.4},{"t":"2013-02-06","w":1.6},{"t":"2013-02-13","w":3.2},{"t":"2013-02-24","w":2.8},{"t":"2013-03-14","w":2.2},{"t":"2013-03-28","w":0.8},{"t":"2013-04-09","w":3.2},{"t":"2013-04-27","w":4.0},{"t":"2013-05-12","w":2.0},{"t":"2013-05-30","w":2.8},{"t":"2013-06-18","w":1.5},{"t":"2013-07-02","w":3.4},{"t":"2013-07-20","w":2.0},{"t":"2013-08-04","w":4.0},{"t":"2013-08-19","w":1.2},{"t":"2013-09-02","w":2.8},{"t":"2013-09-20","w":3.6},{"t":"2013-10-05","w":4.0},{"t":"2013-10-19","w":2.0},{"t":"2013-11-06","w":2.8},{"t":"2013-11-24","w":1.8},{"t":"2013-12-09","w":-0.9},{"t":"2013-12-24","w":2.5},
{"t":"2014-01-08","w":3.4},{"t":"2014-01-22","w":2.6},{"t":"2014-02-10","w":4.0},{"t":"2014-02-24","w":3.0},{"t":"2014-03-14","w":2.8},{"t":"2014-03-28","w":1.8},{"t":"2014-04-16","w":1.0},{"t":"2014-05-01","w":-0.5},{"t":"2014-05-19","w":-2.1},{"t":"2014-06-03","w":-8.2},{"t":"2014-06-18","w":-12},{"t":"2014-07-02","w":-8},{"t":"2014-07-20","w":-5.7},{"t":"2014-08-04","w":-2.1},{"t":"2014-08-22","w":-0.9},{"t":"2014-09-06","w":-4.5},{"t":"2014-09-24","w":-2.1},{"t":"2014-10-08","w":-9.4},{"t":"2014-10-23","w":-5.7},{"t":"2014-11-10","w":-1.5},{"t":"2014-11-24","w":0.4},{"t":"2014-12-12","w":1.8},{"t":"2014-12-27","w":2.8},
{"t":"2015-01-15","w":3.4},{"t":"2015-01-30","w":4.0},{"t":"2015-02-17","w":3.3},{"t":"2015-03-03","w":4.7},{"t":"2015-03-22","w":3.9},{"t":"2015-04-05","w":4.4},{"t":"2015-04-20","w":3.6},{"t":"2015-05-05","w":4.0},{"t":"2015-05-23","w":2.6},{"t":"2015-06-07","w":3.4},{"t":"2015-06-25","w":4.2},{"t":"2015-07-09","w":4.0},{"t":"2015-07-24","w":2.8},{"t":"2015-08-08","w":1.6},{"t":"2015-08-22","w":3.6},{"t":"2015-09-10","w":4.0},{"t":"2015-09-24","w":3.0},{"t":"2015-10-12","w":3.4},{"t":"2015-10-27","w":4.2},{"t":"2015-11-14","w":4.7},{"t":"2015-11-28","w":3.6},{"t":"2015-12-13","w":4.0},
{"t":"2016-01-01","w":1.0},{"t":"2016-01-15","w":3.2},{"t":"2016-02-03","w":4.0},{"t":"2016-02-17","w":3.0},{"t":"2016-03-03","w":0.4},{"t":"2016-03-21","w":3.4},{"t":"2016-04-05","w":4.2},{"t":"2016-04-20","w":4.0},{"t":"2016-05-05","w":3.0},{"t":"2016-05-19","w":-2.1},{"t":"2016-05-30","w":2.5},{"t":"2016-06-14","w":3.6},{"t":"2016-07-09","w":4.0},{"t":"2016-07-24","w":3.2},{"t":"2016-08-11","w":1.6},{"t":"2016-08-26","w":2.5},{"t":"2016-09-09","w":-3.0},{"t":"2016-09-16","w":-6.8},{"t":"2016-09-27","w":-1.0},{"t":"2016-10-15","w":2.8},{"t":"2016-10-30","w":3.6},{"t":"2016-11-17","w":4.0},{"t":"2016-12-02","w":3.2},{"t":"2016-12-16","w":2.8},
{"t":"2017-01-04","w":1.0},{"t":"2017-01-19","w":2.8},{"t":"2017-02-03","w":3.4},{"t":"2017-02-21","w":4.2},{"t":"2017-03-07","w":4.0},{"t":"2017-03-25","w":3.0},{"t":"2017-04-09","w":2.8},{"t":"2017-04-27","w":3.6},{"t":"2017-05-12","w":4.0},{"t":"2017-05-30","w":4.4},{"t":"2017-06-14","w":4.7},{"t":"2017-06-29","w":4.5},{"t":"2017-07-13","w":5.3},{"t":"2017-07-31","w":5.1},{"t":"2017-08-15","w":5.9},{"t":"2017-08-29","w":5.6},{"t":"2017-09-17","w":6.5},{"t":"2017-10-01","w":6.0},{"t":"2017-10-19","w":6.5},{"t":"2017-11-03","w":6.2},{"t":"2017-11-18","w":7.0},{"t":"2017-12-06","w":6.8},{"t":"2017-12-20","w":7.4},
{"t":"2018-01-08","w":6.5},{"t":"2018-01-22","w":5.3},{"t":"2018-02-06","w":5.6},{"t":"2018-02-24","w":4.7},{"t":"2018-03-10","w":4.9},{"t":"2018-03-25","w":4.0},{"t":"2018-04-12","w":3.7},{"t":"2018-04-27","w":3.4},{"t":"2018-05-12","w":4.2},{"t":"2018-05-30","w":4.0},{"t":"2018-06-14","w":3.3},{"t":"2018-07-02","w":2.8},{"t":"2018-07-20","w":3.8},{"t":"2018-08-04","w":3.4},{"t":"2018-08-22","w":2.5},{"t":"2018-09-06","w":0.0},{"t":"2018-09-16","w":-4.5},{"t":"2018-09-27","w":0.5},{"t":"2018-10-12","w":3.0},{"t":"2018-10-30","w":3.8},{"t":"2018-11-17","w":3.4},{"t":"2018-12-02","w":4.0},{"t":"2018-12-20","w":3.4},
{"t":"2019-01-08","w":3.4},{"t":"2019-01-22","w":4.2},{"t":"2019-02-10","w":4.0},{"t":"2019-02-24","w":3.0},{"t":"2019-03-14","w":3.4},{"t":"2019-04-02","w":4.2},{"t":"2019-04-16","w":4.0},{"t":"2019-05-01","w":3.2},{"t":"2019-05-19","w":1.0},{"t":"2019-06-03","w":3.4},{"t":"2019-06-18","w":3.6},{"t":"2019-07-05","w":2.8},{"t":"2019-07-20","w":3.4},{"t":"2019-08-07","w":4.0},{"t":"2019-08-22","w":3.2},{"t":"2019-09-09","w":2.4},{"t":"2019-09-24","w":4.0},{"t":"2019-10-09","w":3.6},{"t":"2019-10-27","w":2.8},{"t":"2019-11-10","w":4.0},{"t":"2019-11-24","w":3.4},{"t":"2019-12-13","w":4.2},{"t":"2019-12-28","w":4.0},
{"t":"2020-01-15","w":3.6},{"t":"2020-01-30","w":2.8},{"t":"2020-02-14","w":3.8},{"t":"2020-02-28","w":4.0},{"t":"2020-03-18","w":3.2},{"t":"2020-04-01","w":3.8},{"t":"2020-04-16","w":3.0},{"t":"2020-05-04","w":3.4},{"t":"2020-05-19","w":0.4},{"t":"2020-06-03","w":3.2},{"t":"2020-06-21","w":3.8},{"t":"2020-07-05","w":4.0},{"t":"2020-07-20","w":3.0},{"t":"2020-08-07","w":1.0},{"t":"2020-08-22","w":3.4},{"t":"2020-09-09","w":4.0},{"t":"2020-09-24","w":3.2},{"t":"2020-10-12","w":3.8},{"t":"2020-10-27","w":3.4},{"t":"2020-11-10","w":2.4},{"t":"2020-11-28","w":3.8},{"t":"2020-12-13","w":4.0},{"t":"2020-12-28","w":3.0},
{"t":"2021-01-15","w":1.0},{"t":"2021-01-30","w":3.4},{"t":"2021-02-17","w":4.0},{"t":"2021-03-03","w":3.2},{"t":"2021-03-22","w":3.4},{"t":"2021-04-05","w":2.6},{"t":"2021-04-20","w":1.6},{"t":"2021-05-08","w":3.6},{"t":"2021-05-23","w":4.0},{"t":"2021-06-10","w":3.2},{"t":"2021-06-25","w":3.4},{"t":"2021-07-13","w":3.8},{"t":"2021-07-28","w":2.8},{"t":"2021-08-11","w":0.0},{"t":"2021-08-22","w":-6.6},{"t":"2021-09-02","w":-1.5},{"t":"2021-09-13","w":2.5},{"t":"2021-09-27","w":3.4},{"t":"2021-10-15","w":3.8},{"t":"2021-10-30","w":4.0},{"t":"2021-11-17","w":3.2},{"t":"2021-12-02","w":4.0},{"t":"2021-12-16","w":3.6},
{"t":"2022-01-04","w":4.7},{"t":"2022-01-19","w":3.8},{"t":"2022-02-03","w":4.0},{"t":"2022-02-21","w":3.0},{"t":"2022-03-07","w":3.4},{"t":"2022-03-25","w":4.2},{"t":"2022-04-09","w":4.0},{"t":"2022-04-27","w":3.3},{"t":"2022-05-12","w":4.0},{"t":"2022-05-27","w":3.4},{"t":"2022-06-10","w":1.6},{"t":"2022-06-29","w":3.6},{"t":"2022-07-13","w":4.0},{"t":"2022-07-31","w":3.3},{"t":"2022-08-15","w":2.8},{"t":"2022-08-29","w":3.8},{"t":"2022-09-17","w":3.4},{"t":"2022-10-01","w":2.8},{"t":"2022-10-19","w":1.6},{"t":"2022-11-06","w":3.6},{"t":"2022-11-24","w":4.0},{"t":"2022-12-09","w":3.2},{"t":"2022-12-20","w":3.4},
{"t":"2023-01-08","w":4.7},{"t":"2023-01-22","w":4.5},{"t":"2023-02-06","w":5.3},{"t":"2023-02-17","w":5.2},{"t":"2023-02-28","w":5.8}
]
},
"resolve": {"scale": {"y": "independent", "color": "independent"}},
"layer": [
{
 "data": {"name": "prod"},
 "transform": [{"fold": ["aFV","bIRWD","cMesa","dHB","eNB"], "as": ["src","af"]}],
 "mark": {"type": "bar", "strokeWidth": 0.5, "binSpacing": 0},
 "encoding": {
  "x": {"field": "d", "timeUnit": "utcyearmonth", "type": "temporal",
   "scale": {"type": "utc", "domain": [{"year":2007,"month":1,"date":1,"utc":true},{"year":2024,"month":1,"date":1,"utc":true}]},
   "axis": {"title": null, "values": [{"year":2007,"month":1,"date":1,"utc":true},{"year":2008,"month":1,"date":1,"utc":true},{"year":2009,"month":1,"date":1,"utc":true},{"year":2010,"month":1,"date":1,"utc":true},{"year":2011,"month":1,"date":1,"utc":true},{"year":2012,"month":1,"date":1,"utc":true},{"year":2013,"month":1,"date":1,"utc":true},{"year":2014,"month":1,"date":1,"utc":true},{"year":2015,"month":1,"date":1,"utc":true},{"year":2016,"month":1,"date":1,"utc":true},{"year":2017,"month":1,"date":1,"utc":true},{"year":2018,"month":1,"date":1,"utc":true},{"year":2019,"month":1,"date":1,"utc":true},{"year":2020,"month":1,"date":1,"utc":true},{"year":2021,"month":1,"date":1,"utc":true},{"year":2022,"month":1,"date":1,"utc":true},{"year":2023,"month":1,"date":1,"utc":true},{"year":2024,"month":1,"date":1,"utc":true}],
    "labelExpr": "utcFormat(datum.value, '%Y')", "ticks": false, "labelPadding": 11, "labelFont": "DejaVu Sans Condensed, Liberation Sans, sans-serif", "labelFontWeight": "bold", "labelFontSize": 13, "labelColor": "#3a3a3a", "labelFlush": false, "labelOverlap": false,
    "domainColor": "#333", "domainWidth": 1.2,
    "grid": true, "gridDash": [4,3], "gridColor": "#222", "gridWidth": 1}},
  "y": {"field": "af", "type": "quantitative", "stack": "zero",
   "scale": {"domain": [0, 24000], "reverse": true, "nice": false},
   "axis": {"orient": "right", "title": "Groundwater Production (A-ft)", "values": [0,1000,2000,3000,4000,5000,6000,7000,8000,9000,10000,11000], "format": ",d",
    "labelExpr": "datum.value % 3000 === 0 ? datum.label : ''", "grid": false, "tickSize": -5, "tickColor": "#333", "labelPadding": 12,
    "labelFont": "Liberation Sans", "labelFontWeight": "bold", "labelFontSize": 13, "labelColor": "#555", "domainColor": "#333", "domainWidth": 1.2,
    "titleX": 72, "titleY": 103, "titleAngle": 270, "titleAlign": "center", "titleBaseline": "middle", "titleFont": "Liberation Sans", "titleFontSize": 15, "titleFontWeight": "bold", "titleColor": "#555"}},
  "color": {"field": "src", "type": "nominal",
   "scale": {"domain": ["aFV","bIRWD","cMesa","dHB","eNB"], "range": ["#4a3c97","#8dc641","#a66cc1","#80cfcf","#e03b2f"]},
   "legend": {"orient": "none", "legendX": 349, "legendY": 471, "title": null, "padding": 0,
    "symbolType": "M-3.17,-1H3.17V1H-3.17Z", "symbolSize": 324, "symbolOffset": 19.5, "symbolStrokeWidth": 0, "symbolOpacity": 1,
    "labelOffset": 27.5, "rowPadding": 5, "labelFont": "DejaVu Sans Condensed, Liberation Sans, sans-serif", "labelFontSize": 11, "labelColor": "#333", "labelLimit": 400,
    "labelExpr": "datum.label == 'aFV' ? 'Fountain Valley Groundwater Production' : datum.label == 'bIRWD' ? 'IRWD Groundwater Production' : datum.label == 'cMesa' ? 'Mesa Water Groundwater Production' : datum.label == 'dHB' ? 'Huntington Beach Groundwater Production' : 'Newport Beach Groundwater Production'"}},
  "stroke": {"field": "src", "type": "nominal",
   "scale": {"domain": ["aFV","bIRWD","cMesa","dHB","eNB"], "range": ["#4a3c97","#8dc641","#a66cc1","#80cfcf","#e03b2f"]}, "legend": null},
  "order": {"field": "src", "sort": "ascending"}
 }
},
{
 "resolve": {"scale": {"y": "independent", "color": "independent"}},
 "layer": [
  {
   "data": {"name": "inj"},
   "mark": {"type": "bar", "stroke": "#7f98e2", "strokeWidth": 0.5, "binSpacing": 0},
   "encoding": {
    "x": {"field": "d", "timeUnit": "utcyearmonth", "type": "temporal",
     "scale": {"type": "utc", "domain": [{"year":2007,"month":1,"date":1,"utc":true},{"year":2024,"month":1,"date":1,"utc":true}]},
     "axis": {"title": null, "values": [{"year":2007,"month":1,"date":1,"utc":true},{"year":2008,"month":1,"date":1,"utc":true},{"year":2009,"month":1,"date":1,"utc":true},{"year":2010,"month":1,"date":1,"utc":true},{"year":2011,"month":1,"date":1,"utc":true},{"year":2012,"month":1,"date":1,"utc":true},{"year":2013,"month":1,"date":1,"utc":true},{"year":2014,"month":1,"date":1,"utc":true},{"year":2015,"month":1,"date":1,"utc":true},{"year":2016,"month":1,"date":1,"utc":true},{"year":2017,"month":1,"date":1,"utc":true},{"year":2018,"month":1,"date":1,"utc":true},{"year":2019,"month":1,"date":1,"utc":true},{"year":2020,"month":1,"date":1,"utc":true},{"year":2021,"month":1,"date":1,"utc":true},{"year":2022,"month":1,"date":1,"utc":true},{"year":2023,"month":1,"date":1,"utc":true},{"year":2024,"month":1,"date":1,"utc":true}],
      "labelExpr": "utcFormat(datum.value, '%Y')", "ticks": false, "labelPadding": 11, "labelFont": "DejaVu Sans Condensed, Liberation Sans, sans-serif", "labelFontWeight": "bold", "labelFontSize": 13, "labelColor": "#3a3a3a", "labelFlush": false, "labelOverlap": false,
      "domainColor": "#333", "domainWidth": 1.2,
      "grid": true, "gridDash": [4,3], "gridColor": "#222", "gridWidth": 1}},
    "y": {"field": "inj", "type": "quantitative", "scale": {"domain": [0, 8000], "nice": false},
     "axis": {"orient": "right", "title": "Talbert Barrier Injection (A-ft)", "values": [0,500,1000,1500,2000,2500,3000,3500], "format": ",d",
      "labelExpr": "datum.value % 1000 === 0 ? datum.label : ''", "grid": false, "tickSize": -5, "tickColor": "#333", "labelPadding": 12,
      "labelFont": "Liberation Sans", "labelFontWeight": "bold", "labelFontSize": 13, "labelColor": "#555", "domainColor": "#333", "domainWidth": 1.2,
      "titleX": 72, "titleY": 337, "titleAngle": 270, "titleAlign": "center", "titleBaseline": "middle", "titleFont": "Liberation Sans", "titleFontSize": 15, "titleFontWeight": "bold", "titleColor": "#555"}},
    "color": {"datum": "Talbert Barrier Injection", "scale": {"range": ["#4f72d3"]},
     "legend": {"orient": "none", "legendX": 4, "legendY": 505, "title": null, "padding": 0,
      "symbolType": "M-3.2,-0.65H3.2V0.65H-3.2Z", "symbolSize": 324, "symbolOffset": 19.5, "symbolStrokeColor": "#8ea5e8", "symbolStrokeWidth": 1, "symbolOpacity": 1,
      "labelOffset": 26.5, "labelFont": "DejaVu Sans Condensed, Liberation Sans, sans-serif", "labelFontSize": 11, "labelColor": "#333", "labelLimit": 400}}
   }
  },
  {
   "resolve": {"scale": {"color": "independent"}},
   "layer": [
    {
     "data": {"values": [{}]},
     "mark": {"type": "rule", "strokeDash": [12, 8], "strokeWidth": 2.5},
     "encoding": {
      "y": {"datum": 3, "type": "quantitative", "scale": {"domain": [-40, 40], "nice": false},
       "axis": {"orient": "left", "title": "Water Level Elevation (Feet MSL)", "values": [-40,-35,-30,-25,-20,-15,-10,-5,0,5,10,15,20,25,30,35,40],
        "labelExpr": "datum.value % 10 === 0 ? datum.label : ''",
        "grid": true, "gridDash": [4,3], "gridColor": "#222", "gridWidth": 1,
        "gridOpacity": {"condition": {"test": "datum.value % 10 === 0 && abs(datum.value) < 40", "value": 1}, "value": 0},
        "tickSize": -5, "tickColor": "#333", "labelPadding": 17,
        "labelFont": "Liberation Sans", "labelFontWeight": "bold", "labelFontSize": 13, "labelColor": "#555", "domainColor": "#333", "domainWidth": 1.2,
        "titleX": -51, "titleY": 230, "titleAngle": 270, "titleAlign": "center", "titleBaseline": "middle", "titleFont": "Liberation Sans", "titleFontSize": 15.5, "titleFontWeight": "bold", "titleColor": "#555"}},
      "color": {"datum": "Protective Level to Prevent Seawater Intrusion", "scale": {"range": ["#111111"]},
       "legend": {"orient": "none", "legendX": 4, "legendY": 531, "title": null, "padding": 0,
        "symbolType": "M-3.1,0H3.1", "symbolSize": 324, "symbolOffset": 19.5, "symbolStrokeWidth": 3, "symbolDash": [13, 9], "symbolOpacity": 1,
        "labelOffset": 24.5, "labelFont": "DejaVu Sans Condensed, Liberation Sans, sans-serif", "labelFontSize": 11, "labelColor": "#333", "labelLimit": 400}}
     }
    },
    {
     "data": {"name": "wl"},
     "mark": {"type": "line", "strokeWidth": 2.8, "strokeJoin": "round"},
     "encoding": {
      "x": {"field": "t", "type": "temporal",
       "scale": {"type": "utc", "domain": [{"year":2007,"month":1,"date":1,"utc":true},{"year":2024,"month":1,"date":1,"utc":true}]},
       "axis": {"title": null, "values": [{"year":2007,"month":1,"date":1,"utc":true},{"year":2008,"month":1,"date":1,"utc":true},{"year":2009,"month":1,"date":1,"utc":true},{"year":2010,"month":1,"date":1,"utc":true},{"year":2011,"month":1,"date":1,"utc":true},{"year":2012,"month":1,"date":1,"utc":true},{"year":2013,"month":1,"date":1,"utc":true},{"year":2014,"month":1,"date":1,"utc":true},{"year":2015,"month":1,"date":1,"utc":true},{"year":2016,"month":1,"date":1,"utc":true},{"year":2017,"month":1,"date":1,"utc":true},{"year":2018,"month":1,"date":1,"utc":true},{"year":2019,"month":1,"date":1,"utc":true},{"year":2020,"month":1,"date":1,"utc":true},{"year":2021,"month":1,"date":1,"utc":true},{"year":2022,"month":1,"date":1,"utc":true},{"year":2023,"month":1,"date":1,"utc":true},{"year":2024,"month":1,"date":1,"utc":true}],
        "labelExpr": "utcFormat(datum.value, '%Y')", "ticks": false, "labelPadding": 11, "labelFont": "DejaVu Sans Condensed, Liberation Sans, sans-serif", "labelFontWeight": "bold", "labelFontSize": 13, "labelColor": "#3a3a3a", "labelFlush": false, "labelOverlap": false,
        "domainColor": "#333", "domainWidth": 1.2,
        "grid": true, "gridDash": [4,3], "gridColor": "#222", "gridWidth": 1}},
      "y": {"field": "w", "type": "quantitative", "scale": {"domain": [-40, 40], "nice": false},
       "axis": {"orient": "left", "title": "Water Level Elevation (Feet MSL)", "values": [-40,-35,-30,-25,-20,-15,-10,-5,0,5,10,15,20,25,30,35,40],
        "labelExpr": "datum.value % 10 === 0 ? datum.label : ''",
        "grid": true, "gridDash": [4,3], "gridColor": "#222", "gridWidth": 1,
        "gridOpacity": {"condition": {"test": "datum.value % 10 === 0 && abs(datum.value) < 40", "value": 1}, "value": 0},
        "tickSize": -5, "tickColor": "#333", "labelPadding": 17,
        "labelFont": "Liberation Sans", "labelFontWeight": "bold", "labelFontSize": 13, "labelColor": "#555", "domainColor": "#333", "domainWidth": 1.2,
        "titleX": -51, "titleY": 230, "titleAngle": 270, "titleAlign": "center", "titleBaseline": "middle", "titleFont": "Liberation Sans", "titleFontSize": 15.5, "titleFontWeight": "bold", "titleColor": "#555"}},
      "color": {"datum": "Talbert/Lambda Aquifer Mergence Zone", "scale": {"range": ["#e2321f"]},
       "legend": {"orient": "none", "legendX": 4, "legendY": 472, "title": null, "padding": 0,
        "symbolType": "M-3.1,0.67H3.1", "symbolSize": 324, "symbolOffset": 19.5, "symbolStrokeWidth": 3, "symbolOpacity": 1,
        "labelOffset": 24.5, "labelFont": "DejaVu Sans Condensed, Liberation Sans, sans-serif", "labelFontSize": 11, "labelColor": "#333", "labelLimit": 400,
        "labelExpr": "['Talbert/Lambda Aquifer Mergence Zone', 'Perforated Interval:  71 - 135 ft. bgs']"}}
     }
    }
   ]
  }
 ]
}
]
}
